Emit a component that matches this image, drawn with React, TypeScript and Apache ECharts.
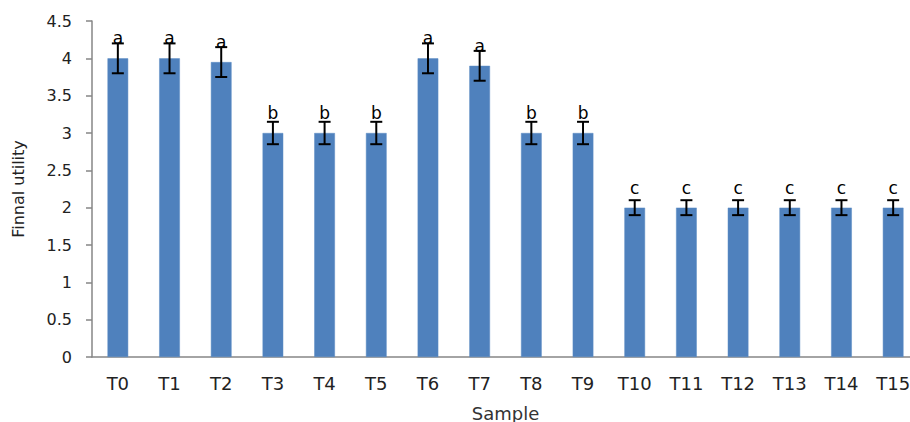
import React, { useEffect, useRef } from "react";
import * as echarts from "echarts";

const categories = ["T0","T1","T2","T3","T4","T5","T6","T7","T8","T9","T10","T11","T12","T13","T14","T15"];
const means = [4, 4, 3.95, 3, 3, 3, 4, 3.9, 3, 3, 2, 2, 2, 2, 2, 2];
const errors = [0.2, 0.2, 0.2, 0.15, 0.15, 0.15, 0.2, 0.2, 0.15, 0.15, 0.1, 0.1, 0.1, 0.1, 0.1, 0.1];
const letters = ["a","a","a","b","b","b","a","a","b","b","c","c","c","c","c","c"];
const yTicks = { min: 0, max: 4.5, interval: 0.5 };

const FONT = "DejaVu Sans";

export default function App() {
  const ref = useRef<HTMLDivElement>(null);
  useEffect(() => {
    document.body.style.margin = "0";
    const chart = echarts.init(ref.current!, null, { renderer: "svg" });
    const errData = means.map((m, i) => [i, m, errors[i]]);
    chart.setOption({
      animation: false,
      backgroundColor: "#ffffff",
      grid: { left: 92, right: -9, top: 21, bottom: 65, containLabel: false, outerBoundsMode: "none" },
      xAxis: {
        type: "category",
        data: categories,
        name: "Sample",
        nameLocation: "middle",
        nameGap: 47,
        nameTextStyle: { fontFamily: FONT, fontSize: 18, color: "#333333" },
        axisLine: { lineStyle: { color: "#868686", width: 1.5 } },
        axisTick: { show: false },
        axisLabel: { fontFamily: FONT, fontSize: 18, color: "#222222", margin: 17 },
      },
      yAxis: {
        type: "value",
        min: yTicks.min,
        max: yTicks.max,
        interval: yTicks.interval,
        name: "Finnal utility",
        nameLocation: "middle",
        nameGap: 66,
        nameTextStyle: { fontFamily: FONT, fontSize: 16, color: "#222222" },
        axisLine: { show: true, lineStyle: { color: "#868686", width: 1.5 } },
        axisTick: { show: true, length: 6, lineStyle: { color: "#868686", width: 1.5 } },
        splitLine: { show: false },
        axisLabel: { fontFamily: FONT, fontSize: 16, color: "#222222", margin: 20 },
      },
      series: [
        {
          type: "bar",
          data: means,
          barWidth: "40%",
          itemStyle: { color: "#4F81BD", borderColor: "#5C8CC4", borderWidth: 0.5 },
        },
        {
          type: "custom",
          data: errData,
          z: 10,
          renderItem: (params: any, api: any) => {
            const i = api.value(0);
            const m = api.value(1);
            const e = api.value(2);
            const top = api.coord([i, m + e]);
            const bot = api.coord([i, m - e]);
            const mid = api.coord([i, m]);
            const hw = 6;
            const st = { stroke: "#000000", lineWidth: 2 };
            return {
              type: "group",
              children: [
                { type: "line", shape: { x1: top[0], y1: top[1], x2: bot[0], y2: bot[1] }, style: st },
                { type: "line", shape: { x1: top[0] - hw, y1: top[1], x2: top[0] + hw, y2: top[1] }, style: st },
                { type: "line", shape: { x1: bot[0] - hw, y1: bot[1], x2: bot[0] + hw, y2: bot[1] }, style: st },
                {
                  type: "text",
                  x: mid[0],
                  y: mid[1] - 20,
                  style: {
                    text: letters[params.dataIndex],
                    fontFamily: FONT,
                    fontSize: 17,
                    fill: "#000000",
                    align: "center",
                    verticalAlign: "middle",
                  },
                },
              ],
            };
          },
        },
      ],
    });
    return () => chart.dispose();
  }, []);
  return <div ref={ref} style={{ width: 910, height: 422 }} />;
}
